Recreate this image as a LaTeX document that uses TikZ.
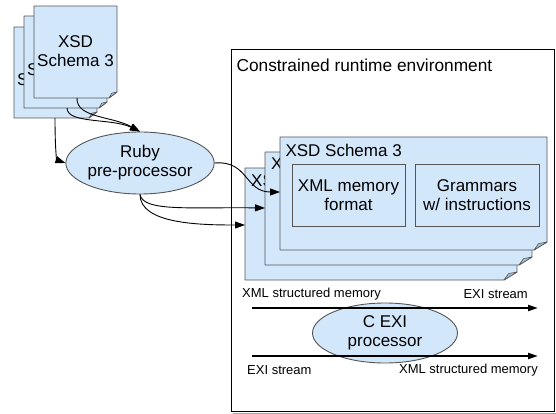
\documentclass[tikz,border=0pt]{standalone}
\usepackage{fontspec}
\setmainfont{Liberation Sans}
\usetikzlibrary{arrows.meta,shapes.geometric}
\definecolor{pagefill}{HTML}{D3E7FB}
\definecolor{edgegray}{HTML}{555555}
\definecolor{flapfill}{HTML}{A9C0D8}
\newcommand\docpage[6]{%
  \filldraw[pg] (#1,#2) -- (#3,#2) -- (#3,#4-#6) -- (#3-#5,#4) -- (#1,#4) -- cycle;
  \filldraw[flapst] (#3-#5,#4) -- (#3,#4-#6) -- (#3-0.65*#5,#4-0.8*#6) -- cycle;}
\tikzset{
  pg/.style={fill=pagefill, draw=edgegray, line width=0.9pt, line join=round},
  flapst/.style={fill=flapfill, draw=edgegray, line width=0.6pt, line join=round},
  big/.style={font=\fontsize{17}{19}\selectfont, align=center},
  small/.style={font=\fontsize{13}{15}\selectfont},
  frag/.style={font=\fontsize{17}{19}\selectfont, anchor=west, inner sep=0pt},
  conn/.style={draw=black, line width=0.9pt, -{Triangle[length=10pt,width=7pt]}},
  flow/.style={draw=black, line width=1.8pt, -{Triangle[length=10pt,width=6pt]}},
  ell/.style={ellipse, fill=pagefill, draw=edgegray, line width=0.9pt, inner sep=0pt, big},
  inbox/.style={rectangle, fill=pagefill, draw=edgegray, line width=0.9pt, inner sep=0pt, big}
}
\begin{document}
\begin{tikzpicture}[x=1pt,y=-1pt]
\useasboundingbox (0,0) rectangle (556,414);
% environment box
\draw[gray!70, line width=1pt] (556,52) -- (556,413) -- (233,413);
\draw[black, line width=1pt] (231,50) rectangle (554,411);
\node[font=\fontsize{17.3}{19}\selectfont, anchor=west] (envtitle) at (233,65) {Constrained runtime environment};
% small document stack
\docpage{14}{27}{97}{118}{8}{6}
\node[frag] (sd3) at (17,80) {S};
\docpage{24}{16}{107}{108}{8}{6}
\node[frag] (sd2) at (27,70) {S};
\docpage{34}{6}{117}{98}{8}{6}
\node[big] (sd1) at (75.5,51) {XSD\\Schema 3};
\coordinate (s1out) at (77,98);
\coordinate (s2out) at (67,108);
\coordinate (s3out) at (55,118);
% Ruby preprocessor
\node[ell, minimum width=144pt, minimum height=62pt] (ruby) at (140,163) {Ruby\\pre-processor};
% big document stack
\docpage{245}{168}{517}{280}{13}{8}
\node[frag] (bd3) at (251,181) {XS};
\docpage{265}{152}{532}{265}{13}{8}
\node[frag] (bd2) at (271,164) {X};
\docpage{280}{137}{547}{250}{13}{8}
\node[big, anchor=west] (bd1) at (282,150) {XSD Schema 3};
\node[inbox, minimum width=113pt, minimum height=62pt] (xmf) at (348.5,195) {XML memory\\format};
\node[inbox, minimum width=124pt, minimum height=62pt] (gram) at (477,195) {Grammars\\w/ instructions};
\coordinate (b1in) at (280,192);
\coordinate (b2in) at (265,208);
\coordinate (b3in) at (245,225);
% connectors
\draw[conn] (s1out) .. controls (76,118) and (112,116) .. (ruby.north);
\draw[conn] (s2out) .. controls (67,124) and (112,118) .. (ruby.north);
\draw[conn] (s3out) .. controls (55,152) and (57,160) .. (ruby.west);
\draw[conn] (ruby.east) .. controls (248,160) and (245,192) .. (b1in);
\draw[conn] (ruby.south) .. controls (143,212) and (190,207) .. (b2in);
\draw[conn] (ruby.south) .. controls (140,224) and (200,225) .. (b3in);
% C EXI processor
\node[ell, minimum width=145pt, minimum height=60pt] (cexi) at (385,333) {C EXI\\processor};
\coordinate (f1a) at (252,308);
\coordinate (f1b) at (538,308);
\coordinate (f2a) at (252,356);
\coordinate (f2b) at (538,356);
\draw[flow] (f1a) -- (f1b);
\draw[flow] (f2a) -- (f2b);
\node[small, anchor=west, inner sep=0pt] (l1) at (242,294) {XML structured memory};
\node[small, anchor=east, inner sep=0pt] (l2) at (528,294) {EXI stream};
\node[small, anchor=west, inner sep=0pt] (l3) at (247,370) {EXI stream};
\node[small, anchor=east, inner sep=0pt] (l4) at (538,370) {XML structured memory};
\end{tikzpicture}
\end{document}
